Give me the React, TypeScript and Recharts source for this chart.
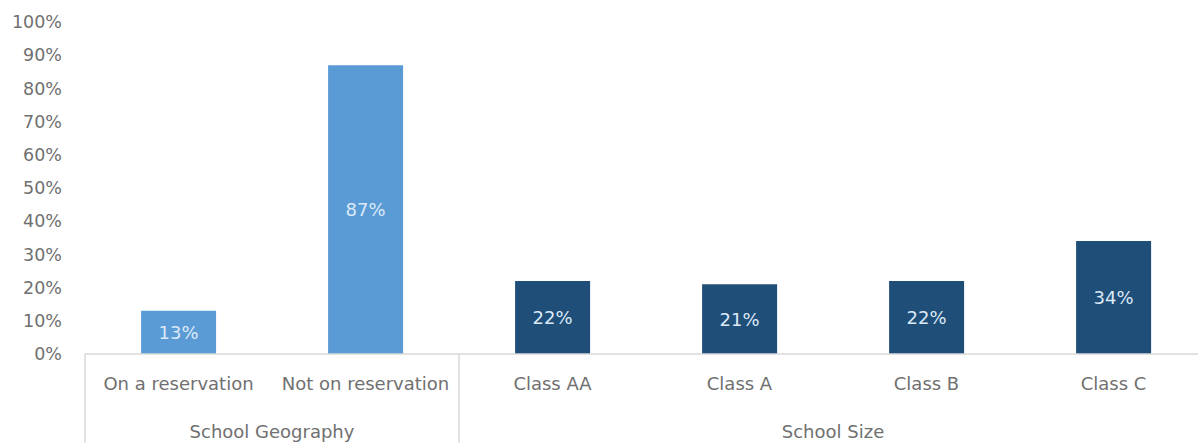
import React from 'react';
import { BarChart, Bar, XAxis, YAxis, Cell, LabelList } from 'recharts';

const categories = ['On a reservation', 'Not on reservation', 'Class AA', 'Class A', 'Class B', 'Class C'];
const groups = ['School Geography', 'School Geography', 'School Size', 'School Size', 'School Size', 'School Size'];
const values = [13, 87, 22, 21, 22, 34];
const yTicks = [0, 10, 20, 30, 40, 50, 60, 70, 80, 90, 100];

const GEO_COLOR = '#5B9BD5';
const SIZE_COLOR = '#1F4E79';
const TEXT_COLOR = '#707070';
const LINE_COLOR = '#d9d9d9';
const FONT = 'DejaVu Sans, sans-serif';

const data = categories.map((c, i) => ({ category: c, group: groups[i], value: values[i] }));

function CategoryTick(props: any) {
  const { x, y, payload, index } = props;
  const half = payload && payload.offset ? payload.offset : 93.5;
  const i = index;
  const grp = groups[i];
  const isFirst = i === 0 || groups[i - 1] !== grp;
  const isLast = i === groups.length - 1;
  let n = 0;
  if (isFirst) {
    for (let k = i; k < groups.length && groups[k] === grp; k++) n++;
  }
  const left = x - half;
  return (
    <g>
      <text x={x} y={y + 31} textAnchor="middle" dominantBaseline="middle" fill={TEXT_COLOR} fontSize={18} fontFamily={FONT}>
        {payload.value}
      </text>
      {isFirst && (
        <line x1={left} y1={y} x2={left} y2={y + 130} stroke={LINE_COLOR} strokeWidth={1.5} />
      )}
      {isLast && (
        <line x1={x + half} y1={y} x2={x + half} y2={y + 130} stroke={LINE_COLOR} strokeWidth={1.5} />
      )}
      {isFirst && (
        <text x={left + n * half} y={y + 79} textAnchor="middle" dominantBaseline="middle" fill={TEXT_COLOR} fontSize={18} fontFamily={FONT}>
          {grp}
        </text>
      )}
    </g>
  );
}

export default function App() {
  return (
    <div style={{ position: 'absolute', left: 0, top: 0, width: 1198, height: 443, overflow: 'hidden', background: '#fff' }}>
      <BarChart
        width={1207}
        height={470}
        data={data}
        margin={{ top: 22, right: 0, left: 0, bottom: 0 }}
        barCategoryGap="30%"
      >
        <XAxis
          dataKey="category"
          interval={0}
          tickLine={false}
          tickSize={0}
          tickMargin={0}
          height={116}
          axisLine={{ stroke: LINE_COLOR, strokeWidth: 1.5 }}
          tick={<CategoryTick />}
        />
        <YAxis
          type="number"
          domain={[0, 100]}
          ticks={yTicks}
          interval={0}
          width={85}
          axisLine={false}
          tickLine={false}
          tickSize={0}
          tickMargin={23}
          tickFormatter={(v: number) => `${v}%`}
          tick={{ fill: TEXT_COLOR, fontSize: 17.5, fontFamily: FONT }}
        />
        <Bar dataKey="value" isAnimationActive={false}>
          {data.map((d, i) => (
            <Cell key={i} fill={d.group === 'School Geography' ? GEO_COLOR : SIZE_COLOR} />
          ))}
          <LabelList
            dataKey="value"
            position="center"
            formatter={(v: number) => `${v}%`}
            fill="#dce9f7"
            fontSize={18}
            fontFamily={FONT}
          />
        </Bar>
      </BarChart>
    </div>
  );
}
